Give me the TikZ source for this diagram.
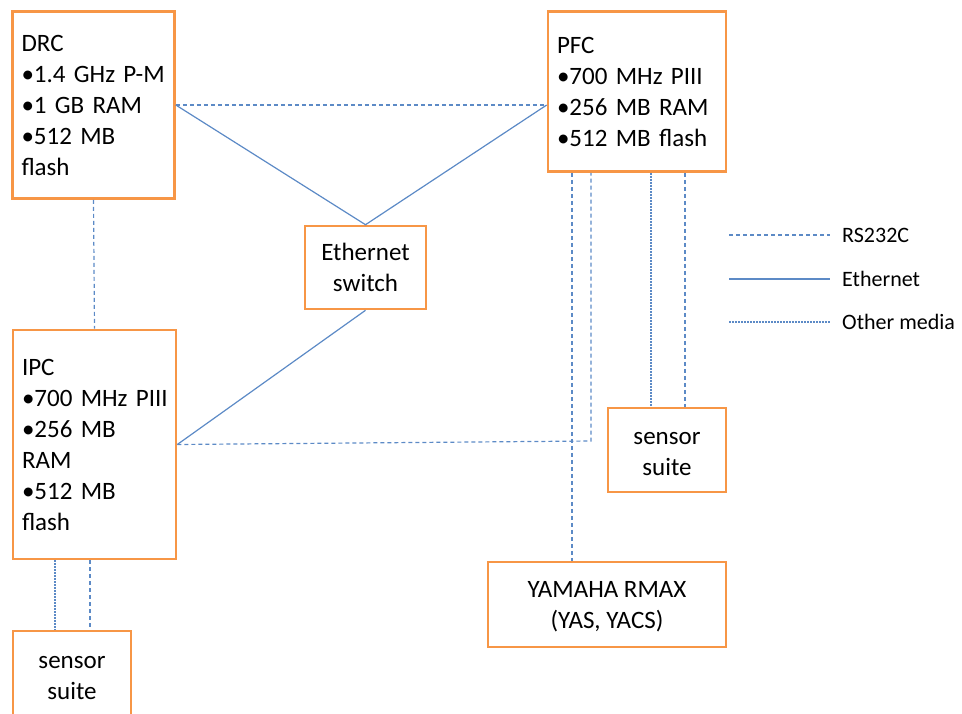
\documentclass[tikz,border=0pt]{standalone}
\usepackage{fontspec}
\setmainfont{Carlito}
\usepackage{tikz}
\usetikzlibrary{calc}
\definecolor{boxorange}{RGB}{247,150,70}
\definecolor{linkblue}{RGB}{92,138,198}
\newcommand{\lowstrut}{\rule{0pt}{21pt}}

\begin{document}
\begin{tikzpicture}[x=1pt,y=-1pt,
    every node/.style={font=\fontsize{25}{31}\selectfont,text=black},
    unit/.style={draw=boxorange,line width=2.6pt,fill=white,inner xsep=9pt,inner ysep=0pt,align=left},
    plainunit/.style={draw=boxorange,line width=2.6pt,fill=white,align=center,inner sep=0pt},
    eth/.style={draw=linkblue,line width=1.2pt},
    rs/.style={draw=linkblue,line width=1.2pt,dash pattern=on 4pt off 3pt},
    other/.style={draw=linkblue,line width=1.2pt,dash pattern=on 2pt off 1pt},
    legend/.style={font=\fontsize{22}{26}\selectfont,anchor=west,inner sep=0pt}]

    \useasboundingbox (0,0) rectangle (962,713);

    % Define the fixed points of the legend and the bends
    \coordinate (rsA) at (729,235);
    \coordinate (rsB) at (830,235);
    \coordinate (ethA) at (729,279);
    \coordinate (ethB) at (830,279);
    \coordinate (othA) at (729,322);
    \coordinate (othB) at (830,322);
    \coordinate (bend) at (591,441);
    \coordinate (yamx) at (572,0);
    \coordinate (ssa) at (651,0);
    \coordinate (ssb) at (685,0);
    \coordinate (ssc) at (55,0);
    \coordinate (ssd) at (90,0);

    \node[unit,minimum width=162pt,minimum height=187pt,text width=144pt] (drc) at (93.5,105)
        {DRC\\•1.4~GHz~P-M\\•1~GB~RAM\\•512~MB\\flash};

    \node[unit,minimum width=178pt,minimum height=160pt,text width=160pt] (pfc) at (637,91.5)
        {PFC\\•700~MHz~PIII\\•256~MB~RAM\\•512~MB~flash};

    \node[plainunit,minimum width=121pt,minimum height=83pt] (sw) at (365.5,267.5)
        {Ethernet\\switch};

    \node[unit,minimum width=163pt,minimum height=229pt,text width=145pt] (ipc) at (94.5,444.5)
        {IPC\\•700~MHz~PIII\\•256~MB\\RAM\\•512~MB\\flash};

    \node[plainunit,minimum width=118pt,minimum height=84pt] (ssR) at (667,450)
        {\lowstrut sensor\\suite};

    \node[plainunit,minimum width=238pt,minimum height=85pt] (yam) at (607,604.5)
        {\lowstrut YAMAHA RMAX\\(YAS, YACS)};

    \node[plainunit,minimum width=118pt,minimum height=86pt] (ssL) at (72,674)
        {\lowstrut sensor\\suite};

    % Ethernet
    \draw[eth] (drc.east) -- (sw.north) -- (drc.east -| pfc.west);
    \draw[eth] (sw.south) -- (ipc.east);

    % RS232C
    \draw[rs] (drc.east) -- (drc.east -| pfc.west);
    \draw[rs] (drc.south) -- (ipc.north);
    \draw[rs] (ipc.east) -- (bend) -- (pfc.south -| bend);
    \draw[rs] (pfc.south -| yamx) -- (yam.north -| yamx);
    \draw[rs] (pfc.south -| ssb) -- (ssR.north -| ssb);
    \draw[rs] (ipc.south -| ssd) -- (ssL.north -| ssd);

    % Other media
    \draw[other] (pfc.south -| ssa) -- (ssR.north -| ssa);
    \draw[other] (ipc.south -| ssc) -- (ssL.north -| ssc);

    % Legend
    \draw[rs] (rsA) -- (rsB);
    \draw[eth] (ethA) -- (ethB);
    \draw[other] (othA) -- (othB);
    \node[legend] (lrs) at ($(rsB)+(12,0)$) {RS232C};
    \node[legend] (leth) at ($(ethB)+(12,0)$) {Ethernet};
    \node[legend] (loth) at ($(othB)+(12,0)$) {Other media};

\end{tikzpicture}
\end{document}
